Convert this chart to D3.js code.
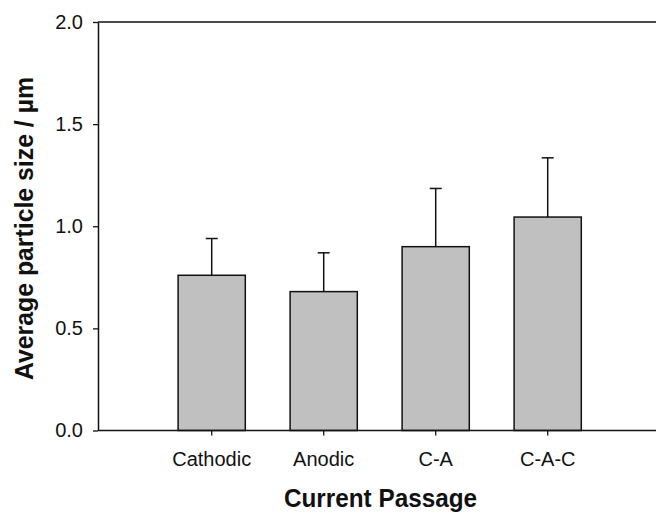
<!DOCTYPE html>
<html><head><meta charset="utf-8">
<script src="https://cdn.jsdelivr.net/npm/d3@7"></script>
<style>body{margin:0;background:#fff}svg{display:block}text{font-family:"Liberation Sans",Arial,sans-serif;fill:#111}</style>
</head><body><svg id="c" width="656" height="515"></svg>
<script>
const categories = ["Cathodic", "Anodic", "C-A", "C-A-C"];
const means = [0.76, 0.68, 0.90, 1.045];
const errors = [0.18, 0.19, 0.285, 0.29];
const yTicks = [0, 0.5, 1.0, 1.5, 2.0];
const xTitle = "Current Passage";
const yTitle = "Average particle size / µm";

const svg = d3.select("#c");
const mLeft = 98, mRight = 656, mTop = 22, mBottom = 430.5;
const y = d3.scaleLinear().domain([0, 2]).range([mBottom, mTop]);
const x = d3.scaleBand().domain(categories).range([155.7, 603.7]).paddingInner(0.4).paddingOuter(0.2);

// top frame line
svg.append("line").attr("x1", mLeft).attr("x2", mRight).attr("y1", y(2)).attr("y2", y(2))
  .attr("stroke", "#111").attr("stroke-width", 1.5);

// bars
svg.selectAll("rect.bar").data(categories).enter().append("rect")
  .attr("x", d => x(d)).attr("width", x.bandwidth())
  .attr("y", (d, i) => y(means[i])).attr("height", (d, i) => y(0) - y(means[i]))
  .attr("fill", "#c0c0c0").attr("stroke", "#111").attr("stroke-width", 1.5);

// error bars (upper only)
const eb = svg.selectAll("g.eb").data(categories).enter().append("g");
eb.append("line")
  .attr("x1", d => x(d) + x.bandwidth() / 2).attr("x2", d => x(d) + x.bandwidth() / 2)
  .attr("y1", (d, i) => y(means[i])).attr("y2", (d, i) => y(means[i] + errors[i]))
  .attr("stroke", "#111").attr("stroke-width", 1.5);
eb.append("line")
  .attr("x1", d => x(d) + x.bandwidth() / 2 - 6).attr("x2", d => x(d) + x.bandwidth() / 2 + 6)
  .attr("y1", (d, i) => y(means[i] + errors[i])).attr("y2", (d, i) => y(means[i] + errors[i]))
  .attr("stroke", "#111").attr("stroke-width", 1.5);

// y axis
const ya = svg.append("g").attr("transform", `translate(${mLeft},0)`)
  .call(d3.axisLeft(y).tickValues(yTicks).tickFormat(d3.format(".1f")).tickSize(5).tickSizeOuter(0).tickPadding(10));
ya.select(".domain").attr("stroke", "#111").attr("stroke-width", 1.5);
ya.selectAll(".tick line").attr("stroke", "#111").attr("stroke-width", 1.3);
ya.selectAll(".tick text").attr("font-size", 20).attr("font-family", "Liberation Sans, Arial, sans-serif").attr("fill", "#222");

// x axis
const xa = svg.append("g").attr("transform", `translate(0,${mBottom})`)
  .call(d3.axisBottom(x).tickSize(5).tickSizeOuter(0).tickPadding(16.5));
xa.select(".domain").attr("d", `M${mLeft},0H${mRight}`).attr("stroke", "#111").attr("stroke-width", 1.5);
xa.selectAll(".tick line").attr("stroke", "#111").attr("stroke-width", 1.3);
xa.selectAll(".tick text").attr("font-size", 20).attr("font-family", "Liberation Sans, Arial, sans-serif").attr("fill", "#222");

// titles
svg.append("text").attr("x", 380.5).attr("y", 507)
  .attr("text-anchor", "middle").attr("font-size", 25).attr("font-weight", "bold")
  .attr("textLength", 193).attr("lengthAdjust", "spacingAndGlyphs").text(xTitle);
svg.append("text").attr("transform", `translate(33,228.5) rotate(-90)`)
  .attr("text-anchor", "middle").attr("font-size", 26).attr("font-weight", "bold")
  .attr("textLength", 303).attr("lengthAdjust", "spacingAndGlyphs").text(yTitle);
</script></body></html>
